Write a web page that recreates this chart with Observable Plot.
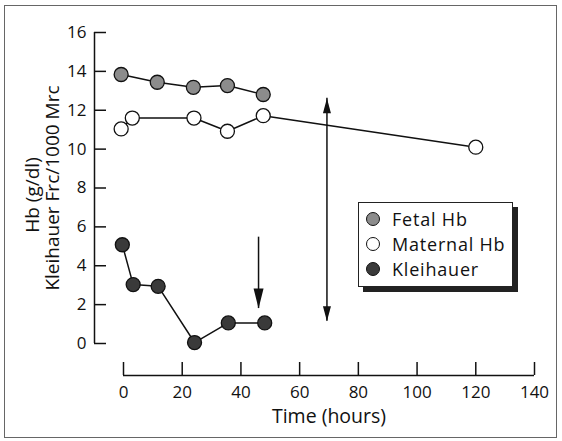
<!DOCTYPE html>
<html>
<head>
<meta charset="utf-8">
<script src="https://cdn.jsdelivr.net/npm/d3@7"></script>
<script src="https://cdn.jsdelivr.net/npm/@observablehq/plot@0.6"></script>
<style>
  body { margin: 0; background: #fff; font-family: "Open Sans", sans-serif; color: #111; }
  #wrap { position: relative; width: 562px; height: 441px; }
  #wrap svg { position: absolute; left: 0; top: 0; }
  #border { position: absolute; left: 4px; top: 5px; width: 553px; height: 433px; border: 1.5px solid #666; box-sizing: border-box; }
  #legend { position: absolute; left: 358px; top: 202px; width: 155px; height: 85px; border: 1px solid #222; background: #fff;
            box-shadow: 5px 5px 0 #222; box-sizing: border-box; padding-top: 3px; }
  .row { height: 25px; display: flex; align-items: center; }
  .sw { width: 14px; height: 14px; border-radius: 50%; border: 1.3px solid #111; margin-left: 7px; margin-right: 12px; box-sizing: border-box; flex: none; }
  .lab { display: block; font-size: 18px; letter-spacing: 0.8px; line-height: 22px; height: 22px; white-space: nowrap; }
</style>
</head>
<body>
<div id="wrap">
  <div id="border"></div>
  <div id="chart"></div>
  <div id="legend"></div>
</div>
<script>
// Time (hours) and values
const fetalTime = [-0.8, 11.5, 23.8, 35.4, 47.6];
const fetalHb   = [13.84, 13.44, 13.18, 13.27, 12.81];

const maternalTime = [-0.8, 3.0, 24.0, 35.4, 47.6, 120.0];
const maternalHb   = [11.04, 11.6, 11.6, 10.92, 11.72, 10.1];

const kleihauerTime = [-0.4, 3.3, 11.8, 24.2, 35.7, 48.1];
const kleihauerVal  = [5.08, 3.03, 2.94, 0.05, 1.06, 1.06];

// arrows: time, top end, bottom end
const arrowTime   = [46, 69.3];
const arrowTop    = [5.47, 12.62];
const arrowBottom = [1.8, 1.15];

const xTicks = [0, 20, 40, 60, 80, 100, 120, 140];
const yTicks = [0, 2, 4, 6, 8, 10, 12, 14, 16];

const seriesNames  = ["Fetal Hb", "Maternal Hb", "Kleihauer"];
const seriesColors = ["#8c8c8c", "#ffffff", "#3a3a3a"];

const zip = (t, v) => t.map((x, i) => ({t: x, v: v[i]}));
const fetal = zip(fetalTime, fetalHb);
const maternal = zip(maternalTime, maternalHb);
const kleihauer = zip(kleihauerTime, kleihauerVal);
const arrows = arrowTime.map((t, i) => ({t, top: arrowTop[i], bottom: arrowBottom[i]}));

const headDown = (w, L) => ({draw(ctx) { ctx.moveTo(0, 0); ctx.lineTo(-w / 2, -L); ctx.lineTo(w / 2, -L); ctx.closePath(); }});
const headUp   = (w, L) => ({draw(ctx) { ctx.moveTo(0, 0); ctx.lineTo(-w / 2, L); ctx.lineTo(w / 2, L); ctx.closePath(); }});

const sw = 1.5;
const chart = Plot.plot({
  width: 562,
  height: 441,
  marginLeft: 123,
  marginRight: 28,
  marginTop: 32,
  marginBottom: 98,
  style: {fontFamily: "Open Sans", fontSize: "17px", color: "#111", background: "transparent"},
  x: {domain: [xTicks[0], xTicks[xTicks.length - 1]]},
  y: {domain: [yTicks[0], yTicks[yTicks.length - 1]]},
  marks: [
    // y axis (offset left of the plot)
    Plot.ruleX([xTicks[0]], {y1: yTicks[0], y2: yTicks[yTicks.length - 1], dx: -29, strokeWidth: sw}),
    Plot.ruleY(yTicks, {y: d => d, x1: xTicks[0], x2: xTicks[0], insetRight: -12, dx: -29, strokeWidth: sw}),
    Plot.axisY({ticks: yTicks, tickSize: 0, tickPadding: 8, dx: -29, label: null, fontSize: 17}),
    // x axis (offset below the plot)
    Plot.ruleY([yTicks[0]], {x1: xTicks[0], x2: xTicks[xTicks.length - 1], dy: 32, strokeWidth: sw}),
    Plot.ruleX(xTicks, {x: d => d, y1: yTicks[0], y2: yTicks[0], insetTop: -13, dy: 32, strokeWidth: sw}),
    Plot.axisX({ticks: xTicks, tickSize: 0, tickPadding: 10, dy: 32, label: null, fontSize: 17}),
    // axis titles
    Plot.text(["Time (hours)"], {text: d => d, frameAnchor: "bottom", textAnchor: "middle", lineAnchor: "top", dy: 66, fontSize: 19.5}),
    Plot.text(["Hb (g/dl)"], {text: d => d, frameAnchor: "left", textAnchor: "middle", lineAnchor: "middle", rotate: -90, dx: -91, dy: 7, fontSize: 19}),
    Plot.text(["Kleihauer Frc/1000 Mrc"], {text: d => d, frameAnchor: "left", textAnchor: "middle", lineAnchor: "middle", rotate: -90, dx: -71, fontSize: 19}),
    // arrows
    Plot.ruleX(arrows, {x: "t", y1: "top", y2: "bottom", stroke: "#111", strokeWidth: 1.5}),
    Plot.dot([arrows[0]], {x: "t", y: "bottom", symbol: headDown(10, 20), fill: "#111", stroke: "none"}),
    Plot.dot([arrows[1]], {x: "t", y: "bottom", symbol: headDown(8, 15), fill: "#111", stroke: "none"}),
    Plot.dot([arrows[1]], {x: "t", y: "top", symbol: headUp(8, 15), fill: "#111", stroke: "none"}),
    // series
    Plot.line(maternal, {x: "t", y: "v", stroke: "#111", strokeWidth: 1.5}),
    Plot.line(fetal, {x: "t", y: "v", stroke: "#111", strokeWidth: 1.5}),
    Plot.line(kleihauer, {x: "t", y: "v", stroke: "#111", strokeWidth: 1.5}),
    Plot.dot(maternal, {x: "t", y: "v", r: 7, fill: seriesColors[1], stroke: "#111", strokeWidth: 1.3}),
    Plot.dot(fetal, {x: "t", y: "v", r: 7, fill: seriesColors[0], stroke: "#111", strokeWidth: 1.3}),
    Plot.dot(kleihauer, {x: "t", y: "v", r: 7, fill: seriesColors[2], stroke: "#111", strokeWidth: 1.3})
  ]
});
document.getElementById("chart").appendChild(chart);

const legend = document.getElementById("legend");
seriesNames.forEach((name, i) => {
  const row = document.createElement("div");
  row.className = "row";
  const s = document.createElement("span");
  s.className = "sw";
  s.style.background = seriesColors[i];
  const t = document.createElement("span");
  t.className = "lab";
  t.textContent = name;
  row.appendChild(s);
  row.appendChild(t);
  legend.appendChild(row);
});
</script>
</body>
</html>
